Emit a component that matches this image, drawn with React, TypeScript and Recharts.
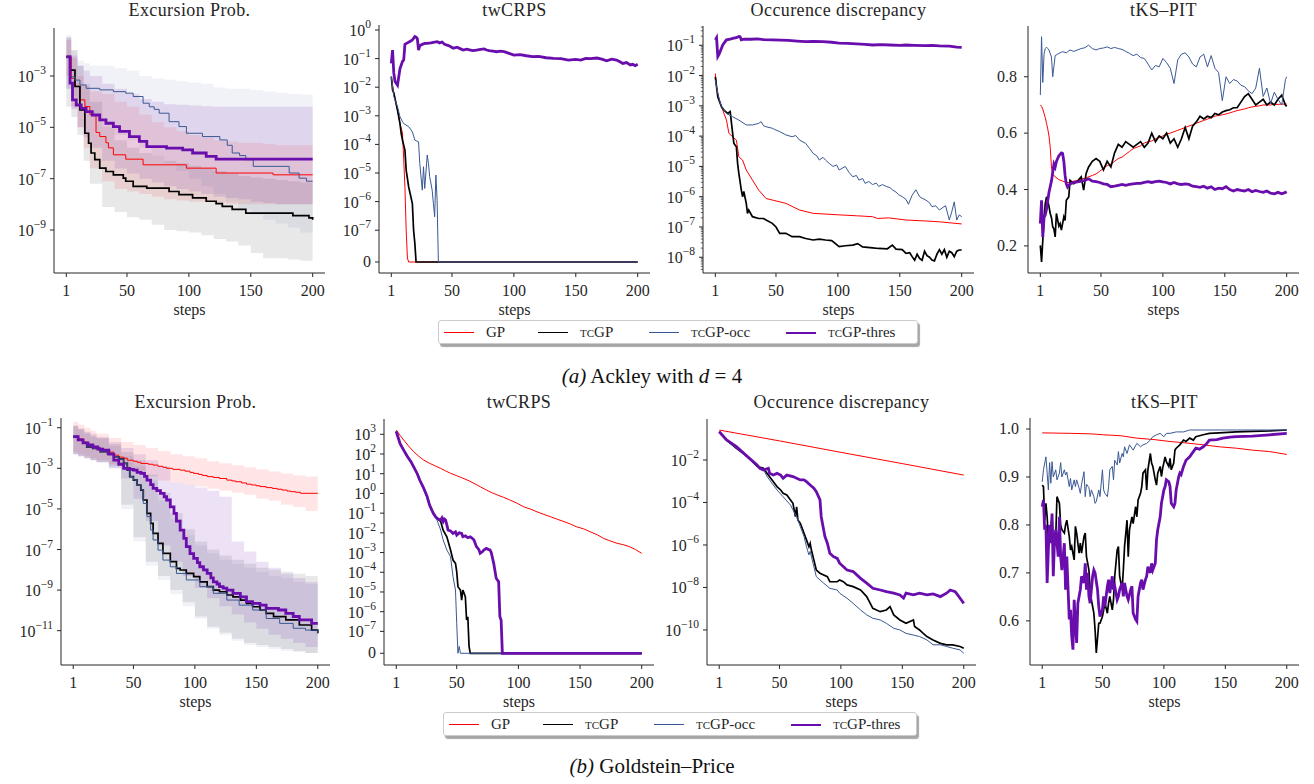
import React from "react";
import { ComposedChart, Line, Area, XAxis, YAxis } from "recharts";

type Pt = [number, number];
type Band = [number, number, number]; // step, low, high
type SeriesKey = "gp" | "tc" | "occ" | "thr";
type Kind = "pow" | "sym" | "lin";

const SERIF = '"Liberation Serif", "Times New Roman", serif';
const INK = "#262626";

const COLORS: Record<SeriesKey, string> = { gp: "#ff0000", tc: "#000000", occ: "#3a5894", thr: "#6a0dad" };
const WIDTHS: Record<SeriesKey, number> = { gp: 1, tc: 1.7, occ: 1, thr: 2.8 };
const BAND_ALPHA: Record<SeriesKey, number> = { gp: 0.1, tc: 0.09, occ: 0.08, thr: 0.12 };
const ORDER: SeriesKey[] = ["gp", "tc", "occ", "thr"];
const SERIES_NAMES = ["GP", "tcGP", "tcGP-occ", "tcGP-thres"];

const STEP_TICKS = [1, 50, 100, 150, 200];
const X_DOMAIN: [number, number] = [-8.95, 209.95];

// log panels keep log10 exponents; twCRPS uses matplotlib symlog (linthresh 1e-7), Z = exactly zero
const Z = -Infinity;
const LIN = 1 / (1 - 1 / 10);
const symlog = (e: number) => (e <= -7 ? Math.pow(10, e + 7) * LIN : e + 7 + LIN);

// ---------- (a) Ackley, Excursion Prob. ----------
const a1Gp: Pt[] = [[1,-2.25],[5,-3.09],[8,-3.4],[12,-3.93],[16,-4.19],[20,-4.5],[25,-5.2],[28,-5.36],[33,-5.6],[35,-5.8],[39,-6.07],[49,-6.24],[63,-6.46],[98,-6.59],[122,-6.78],[168,-6.85],[200,-6.85]];
const a1Tc: Pt[] = [[1,-2.25],[4,-2.77],[8,-3.41],[12,-4.32],[16,-5.23],[19,-5.62],[21,-6.0],[24,-6.26],[28,-6.59],[33,-6.72],[39,-6.85],[47,-6.98],[49,-7.1],[55,-7.3],[66,-7.37],[84,-7.5],[92,-7.62],[103,-7.75],[114,-7.88],[122,-7.97],[127,-8.08],[135,-8.2],[146,-8.34],[184,-8.44],[197,-8.53],[200,-8.6]];
const a1Occ: Pt[] = [[1,-2.25],[4,-3.03],[8,-3.16],[12,-3.35],[17,-3.48],[28,-3.54],[39,-3.61],[49,-3.67],[55,-3.8],[63,-4.06],[68,-4.2],[72,-4.3],[76,-4.45],[84,-4.78],[92,-4.97],[98,-5.23],[111,-5.36],[125,-5.49],[131,-5.7],[135,-6.0],[141,-6.1],[146,-6.26],[152,-6.52],[181,-6.78],[189,-6.98],[195,-7.1],[200,-7.1]];
const a1Thr: Pt[] = [[1,-2.25],[4,-3.28],[6,-3.93],[9,-4.13],[13,-4.26],[17,-4.39],[22,-4.52],[28,-4.71],[33,-4.84],[39,-4.97],[44,-5.16],[52,-5.36],[60,-5.55],[66,-5.75],[82,-5.81],[95,-5.88],[103,-6.0],[114,-6.13],[122,-6.24],[200,-6.24]];
const a1BandGp: Band[] = [[1,-3.0,-1.6],[5,-4.2,-2.3],[10,-5.0,-3.0],[15,-5.8,-3.4],[20,-6.6,-3.6],[30,-7.1,-3.7],[40,-7.4,-4.0],[50,-7.5,-4.2],[60,-7.6,-4.5],[70,-7.7,-4.8],[80,-7.8,-5.0],[90,-7.85,-5.15],[100,-7.9,-5.3],[110,-7.9,-5.4],[120,-7.95,-5.5],[130,-8.0,-5.55],[140,-8.0,-5.6],[150,-8.0,-5.6],[160,-8.0,-5.65],[170,-8.0,-5.7],[180,-8.0,-5.7],[190,-8.0,-5.7],[200,-8.0,-5.7]];
const a1BandTc: Band[] = [[1,-4.2,-1.5],[5,-4.6,-2.0],[10,-5.3,-2.6],[15,-6.3,-3.3],[20,-7.2,-4.0],[30,-8.1,-5.0],[40,-8.3,-5.5],[50,-8.5,-5.8],[60,-8.6,-6.0],[70,-8.8,-6.1],[80,-9.0,-6.3],[90,-9.05,-6.4],[100,-9.1,-6.5],[110,-9.2,-6.6],[120,-9.35,-6.7],[130,-9.45,-6.8],[140,-9.6,-6.9],[150,-9.9,-6.95],[160,-10.1,-7.0],[170,-10.1,-7.05],[180,-10.15,-7.1],[190,-10.2,-7.15],[200,-10.2,-7.2]];
const a1BandOcc: Band[] = [[1,-3.5,-1.4],[5,-3.8,-2.0],[10,-4.0,-2.4],[15,-4.3,-2.5],[20,-4.6,-2.6],[30,-5.0,-2.6],[40,-5.3,-2.7],[50,-5.5,-2.8],[60,-5.8,-3.0],[70,-6.1,-3.1],[80,-6.4,-3.15],[90,-6.7,-3.2],[100,-7.0,-3.25],[110,-7.3,-3.3],[120,-7.6,-3.45],[130,-7.9,-3.5],[140,-8.2,-3.5],[150,-8.4,-3.55],[160,-8.6,-3.6],[170,-8.75,-3.65],[180,-8.9,-3.7],[190,-9.1,-3.72],[200,-9.25,-3.74]];
const a1BandThr: Band[] = [[1,-3.5,-1.5],[5,-4.3,-2.2],[10,-5.0,-2.6],[15,-5.4,-2.8],[20,-5.8,-3.0],[30,-6.3,-3.3],[40,-6.6,-3.5],[50,-6.8,-3.7],[60,-7.0,-3.9],[70,-7.15,-4.0],[80,-7.3,-4.1],[90,-7.4,-4.12],[100,-7.5,-4.15],[110,-7.6,-4.18],[120,-7.7,-4.2],[130,-7.75,-4.2],[140,-7.8,-4.2],[150,-7.9,-4.2],[160,-7.95,-4.2],[170,-8.0,-4.2],[180,-8.0,-4.2],[190,-8.0,-4.2],[200,-8.0,-4.2]];

// ---------- (a) Ackley, twCRPS ----------
const a2Gp: Pt[] = [[1,-1.63],[3,-2.2],[6,-2.8],[8,-3.27],[10,-3.6],[11,-4.5],[12,-5.5],[13,-7.0],[14,-7.9],[15,Z],[200,Z]];
const a2Tc: Pt[] = [[1,-1.63],[2,-2.1],[3,-2.2],[6,-2.8],[8,-3.27],[9,-3.62],[10,-3.85],[12,-4.2],[13,-4.9],[15,-5.48],[18,-6.07],[19,-7.0],[20,-7.23],[21,Z],[200,Z]];
const a2Occ: Pt[] = [[1,-1.63],[3,-2.33],[6,-2.68],[8,-3.03],[10,-3.2],[11,-3.27],[15,-3.38],[18,-3.56],[20,-3.85],[23,-3.91],[24,-4.67],[26,-5.6],[27,-4.78],[28,-5.54],[30,-4.37],[31,-4.67],[32,-5.13],[34,-5.6],[35,-6.07],[36,-6.53],[37,-5.07],[38,-5.95],[39,Z],[200,Z]];
const a2Thr: Pt[] = [[1,-1.17],[2,-0.7],[3,-1.5],[4,-1.8],[6,-1.93],[8,-1.35],[10,-1.1],[11,-1.05],[12,-0.5],[14,-0.45],[16,-0.4],[18,-0.35],[20,-0.23],[21,-0.25],[22,-0.3],[23,-0.7],[24,-0.55],[26,-0.5],[28,-0.47],[30,-0.47],[33,-0.45],[36,-0.42],[38,-0.41],[40,-0.45],[42,-0.42],[44,-0.5],[46,-0.53],[48,-0.56],[51,-0.64],[54,-0.6],[57,-0.66],[59,-0.7],[62,-0.67],[65,-0.7],[67,-0.72],[70,-0.7],[73,-0.68],[76,-0.66],[78,-0.7],[80,-0.72],[83,-0.74],[86,-0.76],[89,-0.74],[92,-0.76],[95,-0.8],[100,-0.88],[105,-0.86],[110,-0.9],[115,-0.93],[120,-0.92],[126,-0.97],[132,-0.99],[138,-1.0],[144,-1.05],[150,-1.03],[154,-1.05],[158,-0.99],[162,-1.0],[167,-0.98],[171,-1.02],[175,-1.08],[179,-1.02],[183,-1.05],[186,-1.12],[188,-1.17],[191,-1.14],[194,-1.22],[196,-1.2],[198,-1.25],[200,-1.2]];

// ---------- (a) Ackley, Occurence discrepancy ----------
const a3Gp: Pt[] = [[1,-1.93],[2,-2.37],[4,-2.8],[7,-3.14],[10,-3.47],[12,-3.91],[15,-4.02],[18,-4.13],[20,-4.68],[23,-4.79],[26,-5.12],[31,-5.45],[36,-5.78],[42,-6.06],[47,-6.11],[58,-6.22],[69,-6.44],[80,-6.55],[101,-6.6],[115,-6.63],[128,-6.66],[132,-6.72],[141,-6.7],[155,-6.77],[170,-6.8],[182,-6.83],[200,-6.9]];
const a3Tc: Pt[] = [[1,-2.04],[3,-2.7],[6,-3.03],[8,-3.14],[11,-3.25],[13,-3.19],[15,-3.91],[16,-4.24],[18,-4.35],[19,-4.9],[20,-5.23],[22,-5.78],[23,-6.0],[24,-5.83],[26,-6.22],[27,-6.55],[28,-6.44],[31,-6.66],[36,-6.72],[40,-6.72],[42,-6.77],[47,-6.88],[50,-7.0],[53,-7.21],[58,-7.21],[63,-7.32],[69,-7.32],[74,-7.38],[80,-7.43],[85,-7.4],[90,-7.43],[95,-7.45],[101,-7.65],[106,-7.62],[112,-7.6],[116,-7.55],[120,-7.66],[128,-7.69],[133,-7.71],[140,-7.72],[144,-7.6],[147,-7.73],[152,-7.75],[155,-7.87],[158,-7.85],[160,-7.98],[162,-8.1],[164,-7.9],[166,-8.04],[168,-8.1],[170,-7.8],[172,-7.95],[174,-8.0],[176,-8.09],[178,-8.12],[180,-7.9],[182,-7.75],[184,-7.9],[186,-7.75],[188,-8.0],[190,-7.8],[192,-7.85],[194,-7.98],[196,-7.8],[198,-7.76],[200,-7.76]];
const a3Occ: Pt[] = [[1,-2.15],[3,-2.59],[6,-3.03],[10,-3.25],[15,-3.36],[20,-3.47],[26,-3.63],[31,-3.63],[36,-3.58],[38,-3.52],[40,-3.66],[42,-3.69],[47,-3.74],[50,-3.8],[53,-3.85],[58,-3.96],[63,-4.02],[66,-3.98],[69,-4.13],[74,-4.24],[77,-4.4],[80,-4.57],[83,-4.65],[85,-4.79],[88,-4.7],[90,-4.79],[93,-4.9],[96,-5.0],[99,-4.95],[101,-5.12],[104,-5.05],[106,-5.0],[109,-5.2],[112,-5.34],[115,-5.3],[117,-5.45],[120,-5.4],[122,-5.56],[125,-5.5],[128,-5.6],[131,-5.55],[133,-5.66],[136,-5.6],[139,-5.66],[142,-5.7],[144,-5.77],[147,-5.85],[149,-5.93],[152,-6.0],[155,-6.09],[157,-6.25],[160,-5.95],[163,-5.77],[166,-6.0],[168,-6.05],[171,-6.11],[174,-6.2],[176,-6.33],[179,-6.3],[182,-6.44],[185,-6.35],[187,-6.3],[190,-6.77],[192,-6.5],[194,-6.17],[196,-6.77],[198,-6.6],[200,-6.66]];
const a3Thr: Pt[] = [[1,-0.82],[2,-0.75],[3,-1.37],[4,-1.3],[5,-1.2],[7,-0.99],[10,-0.82],[13,-0.8],[15,-0.77],[18,-0.75],[20,-0.71],[21,-0.72],[22,-0.82],[24,-0.8],[26,-0.8],[30,-0.8],[35,-0.79],[40,-0.81],[47,-0.82],[54,-0.83],[60,-0.84],[67,-0.86],[74,-0.88],[80,-0.87],[88,-0.88],[95,-0.9],[101,-0.93],[108,-0.94],[115,-0.95],[122,-0.97],[128,-0.99],[135,-0.98],[142,-0.99],[150,-1.0],[155,-0.99],[162,-1.0],[170,-1.01],[176,-1.0],[182,-1.02],[190,-1.03],[196,-1.06],[200,-1.07]];

// ---------- (a) Ackley, tKS-PIT ----------
const a4Gp: Pt[] = [[1,0.7],[2,0.695],[3,0.685],[4,0.67],[5,0.655],[6,0.635],[7,0.615],[8,0.59],[9,0.55],[10,0.48],[11,0.455],[13,0.445],[16,0.435],[19,0.43],[22,0.425],[25,0.425],[28,0.43],[31,0.432],[34,0.437],[37,0.44],[40,0.445],[43,0.45],[46,0.455],[49,0.465],[52,0.475],[55,0.485],[58,0.49],[61,0.5],[64,0.51],[67,0.515],[70,0.525],[73,0.535],[76,0.545],[79,0.55],[82,0.555],[85,0.565],[88,0.57],[91,0.572],[94,0.58],[97,0.585],[100,0.59],[103,0.597],[106,0.6],[109,0.605],[112,0.61],[115,0.615],[118,0.62],[121,0.625],[124,0.63],[127,0.635],[130,0.64],[133,0.645],[136,0.65],[139,0.655],[142,0.66],[145,0.663],[148,0.665],[151,0.668],[154,0.672],[157,0.676],[160,0.68],[163,0.683],[166,0.686],[169,0.69],[172,0.693],[175,0.695],[178,0.697],[181,0.7],[184,0.7],[187,0.7],[190,0.702],[193,0.702],[196,0.703],[199,0.703],[200,0.703]];
const a4Tc: Pt[] = [[1,0.202],[2,0.143],[3,0.22],[4,0.3],[5,0.35],[6,0.374],[7,0.36],[8,0.34],[9,0.315],[10,0.3],[11,0.268],[12,0.26],[13,0.232],[14,0.315],[16,0.27],[17,0.279],[18,0.256],[20,0.303],[21,0.29],[22,0.362],[24,0.374],[25,0.433],[28,0.421],[31,0.43],[34,0.445],[36,0.398],[38,0.457],[40,0.48],[43,0.5],[46,0.51],[49,0.5],[52,0.47],[55,0.5],[58,0.48],[61,0.53],[64,0.56],[67,0.55],[70,0.57],[73,0.56],[76,0.55],[79,0.56],[82,0.57],[85,0.55],[88,0.565],[91,0.6],[94,0.57],[97,0.59],[100,0.58],[103,0.6],[106,0.565],[109,0.58],[112,0.55],[115,0.58],[118,0.62],[121,0.58],[124,0.625],[127,0.64],[130,0.66],[133,0.65],[136,0.66],[139,0.655],[142,0.67],[145,0.665],[148,0.675],[151,0.68],[154,0.683],[157,0.69],[160,0.69],[163,0.71],[166,0.73],[169,0.74],[172,0.72],[175,0.7],[178,0.71],[181,0.72],[184,0.7],[187,0.71],[190,0.7],[193,0.72],[196,0.735],[199,0.7],[200,0.695]];
const a4Occ: Pt[] = [[1,0.735],[2,0.942],[3,0.78],[4,0.88],[5,0.9],[6,0.905],[7,0.9],[8,0.895],[10,0.87],[11,0.8],[13,0.875],[16,0.883],[19,0.889],[22,0.885],[25,0.895],[28,0.89],[31,0.895],[34,0.9],[37,0.903],[40,0.912],[43,0.9],[46,0.895],[49,0.9],[52,0.902],[55,0.906],[58,0.9],[61,0.904],[64,0.9],[67,0.897],[70,0.89],[73,0.883],[76,0.875],[79,0.88],[82,0.868],[85,0.865],[88,0.845],[91,0.824],[94,0.84],[97,0.835],[100,0.865],[103,0.85],[106,0.83],[109,0.776],[112,0.86],[115,0.88],[118,0.885],[121,0.87],[124,0.845],[127,0.835],[130,0.87],[133,0.88],[136,0.835],[139,0.875],[142,0.83],[145,0.815],[148,0.715],[151,0.8],[154,0.776],[157,0.79],[160,0.785],[163,0.77],[166,0.765],[169,0.75],[172,0.74],[175,0.76],[178,0.83],[181,0.73],[184,0.76],[187,0.705],[190,0.745],[193,0.72],[196,0.7],[199,0.79],[200,0.8]];
const a4Thr: Pt[] = [[1,0.279],[2,0.362],[3,0.232],[4,0.3],[5,0.31],[6,0.33],[7,0.36],[8,0.39],[10,0.43],[12,0.49],[13,0.48],[14,0.5],[16,0.52],[18,0.53],[19,0.528],[20,0.5],[21,0.45],[22,0.42],[23,0.409],[25,0.42],[28,0.425],[31,0.427],[34,0.43],[37,0.432],[40,0.438],[43,0.43],[46,0.428],[49,0.425],[52,0.42],[55,0.418],[58,0.41],[61,0.412],[64,0.415],[67,0.418],[70,0.415],[73,0.418],[76,0.42],[79,0.422],[82,0.422],[85,0.425],[88,0.428],[91,0.425],[94,0.428],[97,0.43],[100,0.427],[103,0.425],[106,0.42],[109,0.425],[112,0.42],[115,0.418],[118,0.42],[121,0.418],[124,0.412],[127,0.41],[130,0.408],[133,0.412],[136,0.405],[139,0.41],[142,0.4],[145,0.405],[148,0.403],[151,0.41],[154,0.4],[157,0.395],[160,0.4],[163,0.397],[166,0.395],[169,0.4],[172,0.392],[175,0.397],[178,0.393],[181,0.39],[184,0.395],[187,0.387],[190,0.385],[193,0.39],[196,0.385],[199,0.39],[200,0.392]];

// ---------- (b) Goldstein-Price, Excursion Prob. ----------
const b1Gp: Pt[] = [[1,-1.44],[5,-1.55],[9,-1.7],[12,-1.85],[17,-1.95],[21,-2.05],[23,-2.1],[29,-2.2],[34,-2.35],[38,-2.45],[42,-2.5],[45,-2.6],[50,-2.65],[53,-2.7],[56,-2.76],[62,-2.8],[66,-2.84],[70,-2.9],[74,-2.95],[77,-3.0],[82,-3.05],[88,-3.09],[92,-3.14],[96,-3.2],[99,-3.25],[103,-3.3],[106,-3.35],[110,-3.41],[115,-3.45],[120,-3.5],[126,-3.58],[130,-3.62],[133,-3.66],[138,-3.72],[142,-3.78],[146,-3.82],[150,-3.86],[153,-3.9],[158,-3.95],[163,-3.99],[167,-4.03],[171,-4.07],[175,-4.12],[178,-4.15],[182,-4.18],[186,-4.23],[200,-4.23]];
const b1Tc: Pt[] = [[1,-1.44],[5,-1.6],[9,-1.75],[12,-1.94],[17,-2.02],[23,-2.18],[29,-2.3],[34,-2.43],[38,-2.55],[42,-2.76],[45,-3.09],[47,-3.41],[50,-3.58],[53,-3.82],[56,-4.07],[58,-4.56],[61,-5.22],[64,-5.71],[66,-6.2],[70,-6.7],[74,-7.19],[80,-7.6],[85,-7.93],[88,-8.01],[93,-8.18],[99,-8.34],[104,-8.59],[110,-8.83],[115,-9.0],[120,-9.08],[126,-9.24],[131,-9.33],[137,-9.49],[142,-9.65],[147,-9.82],[153,-9.98],[158,-10.15],[164,-10.31],[174,-10.47],[185,-10.72],[195,-10.97],[200,-11.13]];
const b1Occ: Pt[] = [[1,-1.44],[5,-1.6],[9,-1.75],[12,-1.94],[17,-2.02],[23,-2.18],[29,-2.3],[34,-2.43],[38,-2.55],[42,-2.76],[45,-3.09],[47,-3.41],[50,-3.58],[53,-3.82],[56,-4.07],[58,-4.73],[61,-5.38],[64,-6.04],[66,-6.53],[70,-7.03],[74,-7.52],[80,-7.85],[85,-8.18],[93,-8.5],[104,-8.83],[115,-9.16],[126,-9.49],[136,-9.74],[147,-9.98],[158,-10.4],[169,-10.64],[180,-10.88],[190,-10.97],[200,-11.13]];
const b1Thr: Pt[] = [[1,-1.44],[5,-1.6],[9,-1.75],[13,-1.85],[17,-1.95],[21,-2.05],[25,-2.1],[30,-2.3],[34,-2.6],[38,-2.8],[42,-3.0],[47,-3.05],[50,-3.09],[53,-3.2],[56,-3.25],[59,-3.4],[61,-3.58],[64,-3.8],[66,-3.99],[69,-4.1],[72,-4.23],[75,-4.4],[77,-4.56],[80,-4.9],[83,-5.22],[85,-5.6],[88,-6.04],[91,-6.45],[93,-6.86],[96,-7.2],[99,-7.44],[102,-7.65],[104,-7.85],[107,-8.0],[110,-8.18],[113,-8.4],[115,-8.59],[118,-8.7],[120,-8.83],[123,-8.9],[126,-9.0],[131,-9.16],[137,-9.33],[142,-9.57],[147,-9.65],[153,-9.74],[158,-9.9],[168,-9.98],[174,-10.15],[180,-10.3],[185,-10.47],[195,-10.64],[200,-10.64]];
const b1BandGp: Band[] = [[1,-2.2,-0.7],[5,-2.3,-0.85],[10,-2.4,-1.0],[15,-2.5,-1.15],[20,-2.6,-1.3],[30,-2.8,-1.5],[40,-3.0,-1.7],[50,-3.2,-1.85],[60,-3.4,-2.0],[70,-3.6,-2.15],[80,-3.7,-2.3],[90,-3.8,-2.4],[100,-3.9,-2.5],[110,-4.0,-2.65],[120,-4.1,-2.75],[130,-4.2,-2.85],[140,-4.3,-2.95],[150,-4.5,-3.05],[160,-4.6,-3.15],[170,-4.8,-3.25],[180,-4.9,-3.35],[190,-5.1,-3.4],[200,-5.3,-3.5]];
const b1BandTc: Band[] = [[1,-2.3,-0.9],[5,-2.4,-1.05],[10,-2.5,-1.25],[15,-2.6,-1.4],[20,-2.7,-1.5],[30,-2.9,-1.8],[40,-4.8,-2.2],[50,-6.4,-2.6],[60,-7.6,-3.3],[70,-8.3,-4.2],[80,-9.0,-5.2],[90,-9.6,-6.0],[100,-10.3,-6.6],[110,-10.8,-7.0],[120,-11.1,-7.3],[130,-11.4,-7.5],[140,-11.6,-7.7],[150,-11.7,-7.9],[160,-11.8,-8.0],[170,-11.9,-8.1],[180,-12.0,-8.2],[190,-12.1,-8.3],[200,-12.1,-8.4]];
const b1BandOcc: Band[] = [[1,-2.3,-0.95],[5,-2.4,-1.1],[10,-2.5,-1.3],[15,-2.6,-1.45],[20,-2.7,-1.55],[30,-3.0,-1.9],[40,-5.0,-2.4],[50,-6.6,-2.9],[60,-7.8,-3.6],[70,-8.5,-4.6],[80,-9.2,-5.5],[90,-9.8,-6.3],[100,-10.4,-6.8],[110,-10.9,-7.2],[120,-11.2,-7.5],[130,-11.5,-7.7],[140,-11.7,-7.9],[150,-11.8,-8.1],[160,-11.9,-8.3],[170,-12.0,-8.4],[180,-12.05,-8.6],[190,-12.1,-8.7],[200,-12.1,-8.8]];
const b1BandThr: Band[] = [[1,-2.3,-0.9],[5,-2.4,-1.05],[10,-2.5,-1.2],[15,-2.6,-1.3],[20,-2.7,-1.45],[30,-3.0,-1.7],[40,-3.5,-2.0],[50,-4.5,-2.3],[60,-5.6,-2.6],[70,-6.8,-2.9],[80,-7.6,-3.7],[90,-8.3,-3.8],[100,-8.9,-3.95],[110,-9.4,-4.1],[120,-9.8,-4.4],[130,-10.2,-6.6],[140,-10.6,-7.1],[150,-10.9,-7.6],[160,-11.2,-7.9],[170,-11.4,-8.2],[180,-11.6,-8.4],[190,-11.8,-8.6],[200,-12.0,-8.8]];

// ---------- (b) Goldstein-Price, twCRPS ----------
const b2Gp: Pt[] = [[1,3.22],[4,2.95],[7,2.71],[11,2.4],[15,2.12],[19,1.9],[23,1.7],[28,1.53],[33,1.38],[37,1.27],[41,1.14],[45,1.02],[50,0.9],[55,0.77],[60,0.64],[64,0.51],[69,0.34],[74,0.17],[78,0.05],[83,-0.08],[88,-0.2],[93,-0.33],[99,-0.5],[104,-0.67],[110,-0.8],[115,-0.93],[120,-1.05],[126,-1.18],[131,-1.3],[137,-1.43],[142,-1.55],[147,-1.69],[153,-1.8],[158,-1.94],[164,-2.1],[169,-2.28],[174,-2.4],[180,-2.53],[185,-2.6],[190,-2.7],[195,-2.85],[200,-3.04]];
const b2Tc: Pt[] = [[1,3.14],[4,2.54],[7,2.2],[10,1.87],[13,1.6],[15,1.36],[18,1.0],[20,0.68],[23,0.3],[26,-0.16],[28,-0.59],[31,-1.01],[34,-1.26],[37,-1.43],[39,-1.86],[42,-2.2],[45,-2.87],[47,-3.38],[49,-3.55],[50,-3.97],[51,-4.73],[53,-4.9],[54,-5.41],[55,-4.9],[57,-5.24],[58,-6.42],[59,-6.26],[60,-7.5],[61,Z],[200,Z]];
const b2Occ: Pt[] = [[1,3.14],[4,2.54],[7,2.2],[10,1.87],[13,1.6],[15,1.36],[18,1.0],[20,0.68],[23,0.3],[26,-0.16],[28,-0.59],[31,-1.01],[34,-1.35],[37,-1.86],[39,-2.36],[42,-2.87],[45,-3.21],[47,-4.22],[49,-4.9],[50,-6.59],[51,Z],[52,-7.5],[53,Z],[200,Z]];
const b2Thr: Pt[] = [[1,3.14],[4,2.54],[7,2.2],[10,1.87],[13,1.6],[15,1.36],[18,1.0],[20,0.68],[23,0.3],[26,-0.16],[28,-0.59],[31,-1.01],[33,-1.2],[34,-1.26],[35,-1.3],[37,-1.35],[38,-1.25],[39,-1.43],[40,-1.3],[41,-1.35],[42,-1.6],[43,-1.86],[45,-1.9],[47,-2.03],[49,-1.95],[50,-2.11],[52,-2.0],[54,-2.03],[55,-2.2],[57,-2.15],[59,-2.25],[61,-2.2],[63,-2.3],[64,-2.36],[66,-2.7],[68,-2.85],[69,-3.04],[71,-2.95],[72,-2.87],[74,-2.79],[76,-2.85],[77,-2.87],[78,-3.0],[80,-3.55],[82,-4.3],[83,-4.39],[84,-4.48],[85,-6.26],[86,-6.42],[87,Z],[200,Z]];

// ---------- (b) Goldstein-Price, Occurence discrepancy ----------
const b3Gp: Pt[] = [[1,-0.59],[50,-1.1],[100,-1.64],[150,-2.17],[200,-2.71]];
const b3Tc: Pt[] = [[1,-0.67],[7,-1.06],[15,-1.45],[24,-1.84],[32,-2.31],[37,-2.39],[40,-2.63],[44,-2.94],[48,-3.25],[51,-3.41],[53,-3.57],[56,-3.65],[59,-3.88],[61,-4.04],[63,-4.67],[64,-4.2],[65,-4.82],[67,-4.98],[70,-5.45],[72,-5.76],[74,-6.08],[75,-5.92],[76,-6.24],[78,-6.7],[80,-7.18],[83,-7.33],[89,-7.49],[91,-7.73],[97,-7.73],[99,-7.65],[102,-7.73],[105,-7.88],[110,-7.96],[116,-8.12],[121,-8.43],[126,-8.98],[132,-9.14],[137,-9.06],[140,-8.9],[143,-9.29],[148,-9.53],[153,-9.69],[159,-9.53],[160,-9.84],[164,-10.0],[167,-10.16],[170,-10.31],[175,-10.47],[181,-10.63],[186,-10.7],[191,-10.7],[197,-10.78],[200,-10.86]];
const b3Occ: Pt[] = [[1,-0.67],[7,-1.06],[15,-1.45],[24,-1.84],[32,-2.31],[37,-2.45],[40,-2.78],[44,-3.1],[48,-3.41],[53,-3.73],[59,-4.12],[61,-4.35],[64,-4.67],[67,-5.14],[70,-5.6],[72,-6.08],[74,-6.47],[75,-6.3],[78,-7.02],[80,-7.49],[86,-7.8],[91,-8.04],[97,-8.12],[99,-8.27],[105,-8.51],[110,-8.75],[116,-9.06],[121,-9.29],[126,-9.45],[132,-9.53],[137,-9.69],[143,-9.92],[148,-10.0],[153,-10.16],[159,-10.24],[164,-10.31],[170,-10.47],[175,-10.7],[181,-10.7],[186,-10.78],[191,-10.86],[197,-10.94],[200,-11.1]];
const b3Thr: Pt[] = [[1,-0.67],[7,-1.06],[15,-1.37],[24,-1.84],[32,-2.24],[34,-2.39],[37,-2.47],[41,-2.39],[42,-2.63],[45,-2.71],[48,-2.63],[51,-2.71],[53,-2.86],[56,-2.71],[61,-2.78],[64,-2.86],[67,-2.94],[70,-2.94],[72,-3.02],[75,-3.18],[78,-3.33],[80,-3.49],[83,-3.88],[84,-4.67],[86,-5.29],[87,-5.6],[89,-5.92],[91,-6.39],[94,-6.55],[97,-6.63],[99,-6.86],[105,-7.18],[110,-7.25],[116,-7.57],[121,-7.8],[126,-8.04],[132,-8.12],[137,-8.2],[143,-8.27],[148,-8.35],[151,-8.5],[153,-8.27],[159,-8.35],[164,-8.27],[170,-8.35],[175,-8.3],[181,-8.43],[186,-8.27],[189,-8.12],[193,-8.2],[195,-8.35],[198,-8.59],[200,-8.75]];

// ---------- (b) Goldstein-Price, tKS-PIT ----------
const b4Gp: Pt[] = [[1,0.992],[24,0.991],[40,0.99],[51,0.988],[65,0.986],[78,0.981],[92,0.978],[105,0.974],[118,0.971],[132,0.967],[145,0.963],[159,0.96],[172,0.956],[186,0.953],[193,0.95],[200,0.947]];
const b4Tc: Pt[] = [[1,0.883],[2,0.88],[3,0.81],[4,0.845],[5,0.817],[6,0.769],[7,0.8],[8,0.79],[9,0.817],[10,0.762],[12,0.776],[13,0.859],[15,0.845],[16,0.8],[17,0.79],[19,0.783],[20,0.8],[21,0.81],[23,0.776],[24,0.748],[25,0.755],[27,0.727],[28,0.797],[29,0.783],[31,0.741],[32,0.762],[33,0.741],[35,0.776],[36,0.783],[37,0.734],[39,0.706],[40,0.665],[41,0.644],[43,0.616],[44,0.582],[45,0.533],[47,0.595],[48,0.595],[50,0.609],[51,0.623],[52,0.637],[54,0.616],[55,0.637],[56,0.651],[58,0.623],[59,0.644],[60,0.693],[62,0.748],[63,0.755],[64,0.693],[66,0.665],[67,0.706],[68,0.755],[70,0.81],[71,0.734],[72,0.79],[74,0.817],[75,0.803],[77,0.838],[78,0.817],[79,0.852],[81,0.866],[82,0.88],[83,0.908],[85,0.915],[86,0.873],[87,0.915],[89,0.949],[90,0.929],[91,0.922],[93,0.894],[94,0.883],[95,0.908],[97,0.922],[98,0.901],[99,0.918],[101,0.942],[102,0.932],[104,0.922],[105,0.939],[106,0.915],[108,0.929],[109,0.956],[110,0.96],[113,0.967],[116,0.977],[118,0.974],[121,0.981],[124,0.977],[126,0.984],[132,0.988],[137,0.991],[145,0.992],[159,0.994],[172,0.995],[186,0.996],[200,0.998]];
const b4Occ: Pt[] = [[1,0.89],[2,0.915],[4,0.942],[5,0.908],[6,0.873],[7,0.93],[8,0.887],[9,0.932],[10,0.9],[12,0.915],[13,0.894],[15,0.908],[16,0.93],[17,0.9],[19,0.915],[20,0.904],[21,0.91],[23,0.88],[24,0.897],[25,0.873],[27,0.894],[28,0.88],[29,0.894],[31,0.877],[32,0.866],[33,0.885],[35,0.911],[36,0.859],[37,0.885],[39,0.878],[40,0.859],[41,0.873],[43,0.859],[44,0.845],[45,0.849],[47,0.873],[48,0.859],[50,0.915],[51,0.873],[52,0.866],[54,0.859],[55,0.88],[56,0.915],[58,0.922],[59,0.894],[60,0.935],[62,0.925],[63,0.953],[64,0.929],[66,0.949],[67,0.942],[68,0.963],[70,0.949],[72,0.967],[75,0.956],[78,0.97],[81,0.963],[83,0.967],[86,0.97],[89,0.977],[91,0.984],[94,0.988],[97,0.991],[100,0.984],[102,0.991],[105,0.991],[110,0.994],[116,0.994],[121,0.998],[132,0.998],[159,0.998],[200,0.998]];
const b4Thr: Pt[] = [[1,0.838],[2,0.852],[3,0.79],[4,0.8],[5,0.679],[6,0.748],[7,0.8],[8,0.762],[9,0.824],[10,0.693],[11,0.769],[12,0.79],[13,0.762],[14,0.734],[15,0.817],[16,0.734],[17,0.706],[19,0.762],[20,0.665],[21,0.734],[23,0.603],[24,0.623],[25,0.568],[26,0.54],[27,0.644],[28,0.595],[29,0.554],[30,0.637],[31,0.651],[32,0.665],[33,0.693],[35,0.679],[36,0.72],[37,0.665],[38,0.7],[39,0.651],[40,0.637],[42,0.693],[43,0.706],[44,0.7],[46,0.665],[47,0.63],[48,0.609],[50,0.623],[51,0.651],[52,0.63],[54,0.672],[55,0.686],[56,0.658],[58,0.693],[59,0.665],[60,0.672],[62,0.644],[63,0.651],[64,0.665],[66,0.679],[67,0.651],[68,0.679],[70,0.651],[71,0.644],[73,0.665],[74,0.672],[75,0.616],[77,0.603],[78,0.599],[79,0.651],[81,0.679],[82,0.686],[83,0.665],[85,0.686],[86,0.693],[87,0.713],[89,0.7],[90,0.72],[91,0.706],[93,0.72],[94,0.769],[95,0.79],[97,0.817],[98,0.845],[100,0.873],[101,0.88],[102,0.894],[104,0.89],[105,0.88],[106,0.845],[108,0.838],[109,0.845],[110,0.873],[112,0.9],[113,0.908],[114,0.905],[116,0.922],[118,0.935],[121,0.942],[124,0.953],[126,0.96],[129,0.958],[132,0.963],[135,0.97],[137,0.977],[143,0.978],[148,0.981],[154,0.983],[159,0.984],[172,0.985],[186,0.988],[200,0.991]];

// ---------- axis ticks ----------
const SYM_TOP_TICKS = [0, -7, -6, -5, -4, -3, -2, -1, 0].map((e, i) => (i === 0 ? 0 : symlog(e)));
const SYM_BOT_TICKS = [0, -7, -6, -5, -4, -3, -2, -1, 0, 1, 2, 3].map((e, i) => (i === 0 ? 0 : symlog(e)));
const OCC_TOP_DOMAIN: [number, number] = [-8.52, -0.363];
const OCC_TOP_TICKS: number[] = [];
for (let n = -9; n <= -1; n++) {
  for (let k = 1; k <= 9; k++) {
    const t = n + Math.log10(k);
    if (t > OCC_TOP_DOMAIN[0] && t < OCC_TOP_DOMAIN[1]) OCC_TOP_TICKS.push(t);
  }
}

interface PanelSpec {
  title: string;
  left: number;
  top: number;
  width: number;
  height: number;
  titleTop: number;
  kind: Kind;
  domain: [number, number];
  ticks: number[];
  curve: "stepAfter" | "linear";
  lines: Record<SeriesKey, Pt[]>;
  bands?: Record<SeriesKey, Band[]>;
}

const PANELS: PanelSpec[] = [
  { title: "Excursion Prob.", left: 54, top: 28, width: 271, height: 245, titleTop: 0, kind: "pow", domain: [-10.675, -1.13], ticks: [-9, -7, -5, -3], curve: "stepAfter", lines: { gp: a1Gp, tc: a1Tc, occ: a1Occ, thr: a1Thr }, bands: { gp: a1BandGp, tc: a1BandTc, occ: a1BandOcc, thr: a1BandThr } },
  { title: "twCRPS", left: 379, top: 25, width: 271, height: 248, titleTop: 0, kind: "sym", domain: [-0.385, 8.286], ticks: SYM_TOP_TICKS, curve: "linear", lines: { gp: a2Gp, tc: a2Tc, occ: a2Occ, thr: a2Thr } },
  { title: "Occurence discrepancy", left: 703, top: 26, width: 271, height: 247, titleTop: 0, kind: "pow", domain: OCC_TOP_DOMAIN, ticks: OCC_TOP_TICKS, curve: "linear", lines: { gp: a3Gp, tc: a3Tc, occ: a3Occ, thr: a3Thr } },
  { title: "tKS–PIT", left: 1028, top: 26, width: 271, height: 247, titleTop: 0, kind: "lin", domain: [0.104, 0.98], ticks: [0.2, 0.4, 0.6, 0.8], curve: "linear", lines: { gp: a4Gp, tc: a4Tc, occ: a4Occ, thr: a4Thr } },
  { title: "Excursion Prob.", left: 61, top: 418, width: 269, height: 247, titleTop: 392, kind: "pow", domain: [-12.69, -0.52], ticks: [-11, -9, -7, -5, -3, -1], curve: "stepAfter", lines: { gp: b1Gp, tc: b1Tc, occ: b1Occ, thr: b1Thr }, bands: { gp: b1BandGp, tc: b1BandTc, occ: b1BandOcc, thr: b1BandThr } },
  { title: "twCRPS", left: 384, top: 419, width: 270, height: 246, titleTop: 392, kind: "sym", domain: [-0.594, 11.887], ticks: SYM_BOT_TICKS, curve: "linear", lines: { gp: b2Gp, tc: b2Tc, occ: b2Occ, thr: b2Thr } },
  { title: "Occurence discrepancy", left: 707, top: 419, width: 269, height: 246, titleTop: 392, kind: "pow", domain: [-11.65, -0.07], ticks: [-10, -8, -6, -4, -2], curve: "linear", lines: { gp: b3Gp, tc: b3Tc, occ: b3Occ, thr: b3Thr } },
  { title: "tKS–PIT", left: 1030, top: 418, width: 269, height: 247, titleTop: 392, kind: "lin", domain: [0.508, 1.023], ticks: [0.6, 0.7, 0.8, 0.9, 1.0], curve: "linear", lines: { gp: b4Gp, tc: b4Tc, occ: b4Occ, thr: b4Thr } },
];

const supText = (n: number) => String(n).replace("-", "\u2212");

function yTick(kind: Kind) {
  return (p: any) => {
    const v: number = p.payload.value;
    const ax = p.x + 8;
    let major = true;
    let base = "";
    let exp: string | null = null;
    if (kind === "lin") {
      base = v.toFixed(1);
    } else if (kind === "sym") {
      if (v === 0) base = "0";
      else {
        base = "10";
        exp = supText(Math.round(v - 7 - LIN));
      }
    } else {
      major = Math.abs(v - Math.round(v)) < 1e-6;
      base = "10";
      exp = supText(Math.round(v));
    }
    const tx = kind === "lin" ? ax - 11 : ax - 8;
    return (
      <g>
        <line x1={ax - (major ? 4 : 2.2)} x2={ax} y1={p.y} y2={p.y} stroke={INK} strokeWidth={major ? 1 : 0.7} />
        {major && (
          <text x={tx} y={p.y} textAnchor="end" fontFamily={SERIF} fontSize={16} fill={INK}>
            <tspan dy={exp ? 6 : 5}>{base}</tspan>
            {exp && (
              <tspan dy={-8} fontSize={11.5}>
                {exp}
              </tspan>
            )}
          </text>
        )}
      </g>
    );
  };
}

function Panel({ spec }: { spec: PanelSpec }) {
  const YW = 60, MT = 6, MR = 8, XH = 52;
  const conv = (v: number) => (spec.kind === "sym" ? symlog(v) : v);
  return (
    <>
      <div style={{ position: "absolute", left: spec.left - 10, top: spec.titleTop, width: spec.width + 20, textAlign: "center", fontSize: 18, lineHeight: "20px", letterSpacing: 0.4, color: INK }}>
        {spec.title}
      </div>
      <div style={{ position: "absolute", left: spec.left - YW, top: spec.top - MT }}>
        <ComposedChart width={YW + spec.width + MR} height={MT + spec.height + XH} margin={{ top: MT, right: MR, bottom: 0, left: 0 }}>
          <XAxis
            type="number"
            dataKey="step"
            domain={X_DOMAIN}
            ticks={STEP_TICKS}
            interval={0}
            allowDataOverflow
            height={XH}
            tickSize={4}
            tickMargin={8}
            stroke={INK}
            tick={{ fill: INK, fontSize: 16, fontFamily: SERIF }}
            label={{ value: "steps", position: "insideBottom", offset: 10, fill: INK, fontSize: 16, fontFamily: SERIF }}
          />
          <YAxis
            type="number"
            domain={spec.domain}
            ticks={spec.ticks}
            interval={0}
            allowDataOverflow
            width={YW}
            tickSize={4}
            tickMargin={4}
            tickLine={false}
            stroke={INK}
            tick={yTick(spec.kind)}
          />
          {spec.bands &&
            ORDER.map((k) => (
              <Area
                key={"band-" + k}
                data={spec.bands![k].map(([step, lo, hi]) => ({ step, band: [lo, hi] }))}
                dataKey="band"
                type="stepAfter"
                stroke="none"
                fill={COLORS[k]}
                fillOpacity={BAND_ALPHA[k]}
                dot={false}
                activeDot={false}
                isAnimationActive={false}
              />
            ))}
          {ORDER.map((k) => (
            <Line
              key={k}
              data={spec.lines[k].map(([step, v]) => ({ step, v: conv(v) }))}
              dataKey="v"
              type={spec.curve}
              stroke={COLORS[k]}
              strokeWidth={WIDTHS[k]}
              dot={false}
              activeDot={false}
              isAnimationActive={false}
            />
          ))}
        </ComposedChart>
      </div>
    </>
  );
}

function SeriesName({ name }: { name: string }) {
  if (!name.startsWith("tc")) return <>{name}</>;
  return (
    <>
      <span style={{ fontVariant: "small-caps" }}>tc</span>
      {name.slice(2)}
    </>
  );
}

const LEGEND_OFFSETS = [5, 99, 210, 347];

function LegendBox({ left, top, width }: { left: number; top: number; width: number }) {
  return (
    <div
      style={{
        position: "absolute",
        left,
        top,
        width,
        height: 24,
        border: "1px solid #cccccc",
        borderRadius: 3,
        background: "#fff",
        boxShadow: "2px 3px 1px rgba(0,0,0,0.35)",
        boxSizing: "border-box",
      }}
    >
      {ORDER.map((k, i) => (
        <React.Fragment key={k}>
          <div style={{ position: "absolute", left: LEGEND_OFFSETS[i], top: 11, width: 30, height: 0, borderTop: `${WIDTHS[k]}px solid ${COLORS[k]}` }} />
          <div style={{ position: "absolute", left: LEGEND_OFFSETS[i] + 42, top: 3, fontSize: 15, lineHeight: "17px", color: INK, whiteSpace: "nowrap" }}>
            <SeriesName name={SERIES_NAMES[i]} />
          </div>
        </React.Fragment>
      ))}
    </div>
  );
}

export default function App() {
  return (
    <div style={{ position: "absolute", left: 0, top: 0, width: 1314, height: 784, background: "#fff", fontFamily: SERIF, overflow: "hidden" }}>
      {PANELS.map((p, i) => (
        <Panel key={i} spec={p} />
      ))}
      <LegendBox left={438} top={320} width={480} />
      <LegendBox left={443} top={712} width={474} />
      <div style={{ position: "absolute", left: 0, width: 1304, top: 364, textAlign: "center", fontSize: 21, lineHeight: "24px", color: "#111" }}>
        <i>(a)</i> Ackley with <i>d</i> = 4
      </div>
      <div style={{ position: "absolute", left: 0, width: 1304, top: 754, textAlign: "center", fontSize: 21, lineHeight: "24px", color: "#111" }}>
        <i>(b)</i> Goldstein–Price
      </div>
    </div>
  );
}
